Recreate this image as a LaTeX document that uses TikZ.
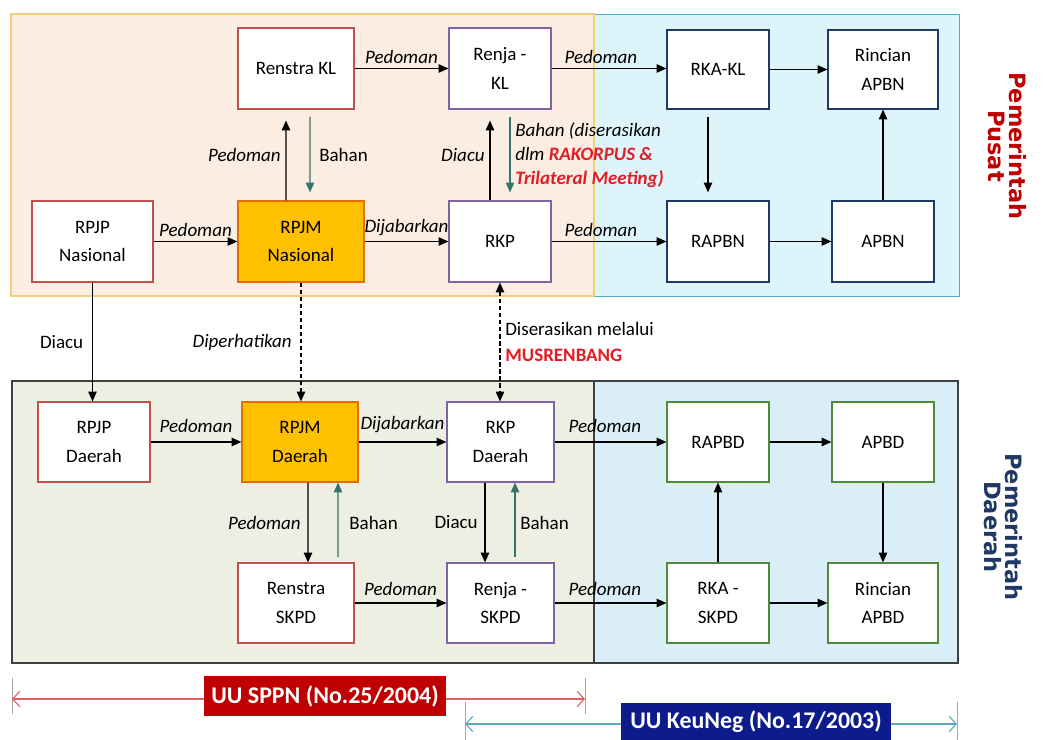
\documentclass[tikz,border=0pt]{standalone}
\usepackage{fontspec}
\setmainfont{Carlito}
\newfontfamily\sidefont{DejaVu Sans}
\usetikzlibrary{arrows.meta}

\definecolor{orangefill}{HTML}{FBEDE1}
\definecolor{orangeedge}{HTML}{F3CF72}
\definecolor{cyanfill}{HTML}{DDF5FA}
\definecolor{cyanedge}{HTML}{4BACC6}
\definecolor{greenfill}{HTML}{EDEFE3}
\definecolor{bluefill}{HTML}{DAEEF7}
\definecolor{regionedge}{HTML}{404040}
\definecolor{edgered}{HTML}{C0504D}
\definecolor{edgepurple}{HTML}{8064A2}
\definecolor{edgenavy}{HTML}{1F3864}
\definecolor{edgegreen}{HTML}{4F8A3B}
\definecolor{rpjmfill}{HTML}{FFC000}
\definecolor{rpjmedge}{HTML}{E46C0A}
\definecolor{bahanteal}{HTML}{34746C}
\definecolor{hotred}{HTML}{E31B23}
\definecolor{pusatred}{HTML}{C00000}
\definecolor{daerahblue}{HTML}{1F3864}
\definecolor{sppnred}{HTML}{C00000}
\definecolor{sppnline}{HTML}{E06060}
\definecolor{keunegblue}{HTML}{0D1B8C}
\definecolor{keunegline}{HTML}{5FA8C4}

\newcommand{\boxsize}{\fontsize{13.5}{20}\selectfont}

\begin{document}
\begin{tikzpicture}[x=0.025cm, y=-0.025cm, font=\boxsize,
    >={Triangle[length=7pt, width=6pt]},
    box/.style={draw, fill=white, line width=0.8pt, align=center,
      minimum height=2.025cm, minimum width=2.55cm, inner sep=2pt},
    redbox/.style={box, draw=edgered},
    purplebox/.style={box, draw=edgepurple},
    navybox/.style={box, draw=edgenavy},
    greenbox/.style={box, draw=edgegreen},
    keybox/.style={box, draw=rpjmedge, fill=rpjmfill},
    arr/.style={->, line width=0.9pt},
    bahan/.style={arr, draw=bahanteal},
    dashline/.style={dash pattern=on 3pt off 2pt},
    lbl/.style={font=\boxsize\itshape},
    sidelbl/.style={rotate=-90, align=center,
      font=\sidefont\bfseries\fontsize{16}{15}\selectfont},
    lawbox/.style={text=white, inner sep=2pt, minimum height=1cm,
      font=\bfseries\fontsize{17}{20}\selectfont},
    tick/.style={draw=gray!70, line width=0.6pt}]
  \useasboundingbox (0,0) rectangle (1060,740);

  % regions
  \filldraw[fill=cyanfill, draw=cyanedge, line width=0.6pt] (594,14) rectangle (959,296);
  \filldraw[fill=orangefill, draw=orangeedge, line width=0.8pt] (11,14) rectangle (594,296);
  \filldraw[fill=bluefill, draw=regionedge, line width=0.8pt] (594,381) rectangle (958,663);
  \filldraw[fill=greenfill, draw=regionedge, line width=0.8pt] (12,381) rectangle (594,663);

  % pemerintah pusat
  \node[redbox, minimum width=2.9cm] (renstrakl) at (296,68.5) {Renstra KL};
  \node[purplebox] (renjakl) at (500,68.5) {Renja -\\ KL};
  \node[navybox, minimum height=1.975cm] (rkakl) at (718,69.5) {RKA-KL};
  \node[navybox, minimum height=1.975cm, minimum width=2.75cm] (rincianapbn) at (883,69.5) {Rincian\\ APBN};
  \node[redbox, minimum width=3.025cm] (rpjpnas) at (92.5,241.5) {RPJP\\ Nasional};
  \node[keybox, minimum width=3.15cm] (rpjmnas) at (301,241.5) {RPJM\\ Nasional};
  \node[purplebox] (rkp) at (500,241.5) {RKP};
  \node[navybox] (rapbn) at (718,241.5) {RAPBN};
  \node[navybox] (apbn) at (883,241.5) {APBN};

  % pemerintah daerah
  \node[redbox, minimum height=2cm, minimum width=2.8cm] (rpjpdae) at (94,442) {RPJP\\ Daerah};
  \node[keybox, minimum height=2cm, minimum width=2.9cm] (rpjmdae) at (300,442) {RPJM\\ Daerah};
  \node[purplebox, minimum height=2cm, minimum width=2.675cm] (rkpdae) at (500.5,442) {RKP\\ Daerah};
  \node[redbox, minimum height=2cm, minimum width=2.9cm] (renstraskpd) at (296,603) {Renstra\\ SKPD};
  \node[purplebox, minimum height=2cm, minimum width=2.675cm] (renjaskpd) at (500.5,603) {Renja -\\ SKPD};
  \node[greenbox, minimum height=2cm] (rapbd) at (718,442) {RAPBD};
  \node[greenbox, minimum height=2cm] (apbd) at (883,442) {APBD};
  \node[greenbox, minimum height=2cm] (rkaskpd) at (718,603) {RKA -\\ SKPD};
  \node[greenbox, minimum height=2cm, minimum width=2.75cm] (rincianapbd) at (883,603) {Rincian\\ APBD};

  % arrows pusat
  \draw[arr] (renstrakl) -- (renjakl) node[lbl, midway, above] {Pedoman};
  \draw[arr] (renjakl.east) -- (renjakl.east -| rkakl.west) node[lbl, pos=0.43, above] {Pedoman};
  \draw[arr] (rkakl) -- (rincianapbn);
  \draw[arr] (rpjpnas) -- (rpjmnas) node[lbl, midway, above] {Pedoman};
  \draw[arr] (rpjmnas) -- (rkp) node[lbl, midway, above] {Dijabarkan};
  \draw[arr] (rkp) -- (rapbn) node[lbl, pos=0.43, above] {Pedoman};
  \draw[arr] (rapbn) -- (apbn);
  \draw[arr] (apbn) -- (rincianapbn);
  \draw[arr, shorten <=0.175cm, shorten >=0.2cm] ([xshift=-0.25cm]rkakl.south) -- ([xshift=-0.25cm]rapbn.north);
  \draw[arr, shorten >=0.275cm] ([xshift=-0.375cm]rpjmnas.north) -- ([xshift=-0.25cm]renstrakl.south)
    node[lbl, midway, left] {Pedoman};
  \draw[bahan, shorten <=0.175cm, shorten >=0.2cm] ([xshift=0.35cm]renstrakl.south) -- ([xshift=0.225cm]rpjmnas.north)
    node[midway, right, xshift=0.1cm] {Bahan};
  \draw[arr, shorten >=0.275cm] ([xshift=-0.25cm]rkp.north) -- ([xshift=-0.25cm]renjakl.south)
    node[lbl, midway, left] {Diacu};
  \draw[bahan, shorten <=0.175cm, shorten >=0.2cm] ([xshift=0.25cm]renjakl.south) -- ([xshift=0.25cm]rkp.north)
    node[midway, right, align=left, font=\fontsize{13.5}{17}\selectfont\itshape]
    {Bahan (diserasikan\\ dlm \textcolor{hotred}{\textbf{RAKORPUS \&}}\\ \textcolor{hotred}{\textbf{Trilateral Meeting)}}};

  % pusat ke daerah
  \draw[arr] (rpjpnas.south) -- (rpjpnas.south |- rpjpdae.north) node[midway, left, xshift=-0.1cm] {Diacu};
  \draw[arr, dashline] (rpjmnas.south) -- (rpjmnas.south |- rpjmdae.north) node[lbl, midway, left, xshift=-0.1cm] {Diperhatikan};
  \draw[arr, dashline, <->] (rkp.south) -- (rkp.south |- rkpdae.north)
    node[midway, right, align=left, font=\fontsize{13.5}{18}\selectfont] {Diserasikan melalui\\ \textcolor{hotred}{\textbf{MUSRENBANG}}};

  % arrows daerah
  \draw[arr] (rpjpdae) -- (rpjmdae) node[lbl, midway, above, yshift=0.1cm] {Pedoman};
  \draw[arr] (rpjmdae) -- (rkpdae) node[lbl, midway, above, yshift=0.1cm] {Dijabarkan};
  \draw[arr] (rkpdae) -- (rapbd) node[lbl, pos=0.45, above, yshift=0.1cm] {Pedoman};
  \draw[arr] (rapbd) -- (apbd);
  \draw[arr] (apbd) -- (rincianapbd);
  \draw[arr] (rkaskpd) -- (rapbd);
  \draw[arr] (rkaskpd) -- (rincianapbd);
  \draw[arr] (renstraskpd) -- (renjaskpd) node[lbl, midway, above, yshift=0.05cm] {Pedoman};
  \draw[arr] (renjaskpd) -- (rkaskpd) node[lbl, pos=0.45, above, yshift=0.05cm] {Pedoman};
  \draw[arr] ([xshift=0.2cm]rpjmdae.south) -- ([xshift=0.3cm]renstraskpd.north) node[lbl, midway, left, xshift=-0.05cm] {Pedoman};
  \draw[bahan, shorten <=0.125cm] ([xshift=1.05cm]renstraskpd.north) -- ([xshift=0.95cm]rpjmdae.south)
    node[midway, right, xshift=0.15cm] {Bahan};
  \draw[arr] ([xshift=-0.3875cm]rkpdae.south) -- ([xshift=-0.3875cm]renjaskpd.north) node[midway, left, xshift=-0.05cm] {Diacu};
  \draw[bahan, shorten <=0.125cm] ([xshift=0.3625cm]renjaskpd.north) -- ([xshift=0.3625cm]rkpdae.south)
    node[midway, right] {Bahan};

  % side labels
  \node[sidelbl, text=pusatred] (pusat) at (1007,146) {Pemerintah\\ Pusat};
  \node[sidelbl, text=daerahblue] (daerah) at (1003,527) {Pemerintah\\ Daerah};

  % undang-undang
  \draw[tick] (12,678) -- (12,714);
  \draw[tick] (585,678) -- (585,714);
  \draw[tick] (465,702) -- (465,740);
  \draw[tick] (957,702) -- (957,740);
  \coordinate (sppnl) at (12,699);
  \coordinate (sppnr) at (585,699);
  \draw[draw=sppnline, line width=0.8pt, {Straight Barb[length=5pt, width=11pt]}-{Straight Barb[length=5pt, width=11pt]}] (sppnl) -- (sppnr);
  \coordinate (keunegl) at (465,724);
  \coordinate (keunegr) at (957,724);
  \draw[draw=keunegline, line width=0.8pt, {Straight Barb[length=5pt, width=11pt]}-{Straight Barb[length=5pt, width=11pt]}] (keunegl) -- (keunegr);
  \node[lawbox, fill=sppnred, minimum width=6.05cm] (sppn) at (325,696) {UU SPPN (No.25/2004)};
  \node[lawbox, fill=keunegblue, minimum width=6.725cm, minimum height=0.95cm] (keuneg) at (756,722) {UU KeuNeg (No.17/2003)};
\end{tikzpicture}
\end{document}
